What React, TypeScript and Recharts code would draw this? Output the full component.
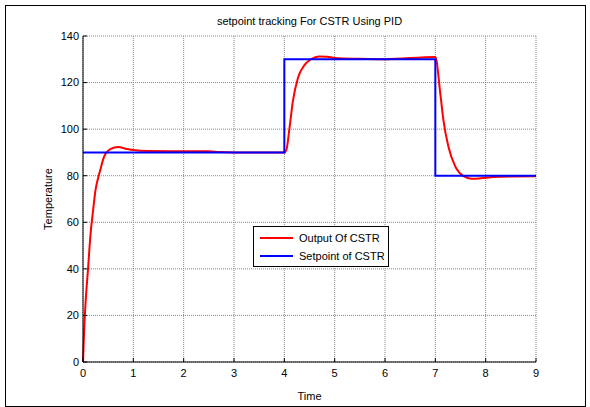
import { CartesianGrid, Line, LineChart, XAxis, YAxis } from 'recharts'

// time (s) and temperature
const outputTime = [
  0, 0.02, 0.05, 0.1, 0.15, 0.2, 0.25, 0.3, 0.35, 0.4, 0.45, 0.55, 0.7, 0.85, 1.0, 1.3, 2.0, 2.5, 2.7, 3.0, 4.0,
  4.04, 4.1, 4.17, 4.27, 4.4, 4.53, 4.69, 4.85, 5.0, 5.5, 6.0, 7.0,
  7.1, 7.16, 7.26, 7.4, 7.56, 7.72, 7.9, 8.15, 8.5, 9.0,
]
const outputTemp = [
  0, 12, 25, 40, 55, 65, 74, 79, 83, 87, 89.5, 91.5, 92.3, 91.6, 91, 90.6, 90.5, 90.5, 90.2, 90, 90,
  91, 100, 112, 122, 127.5, 130, 131.2, 131.1, 130.6, 130.2, 130, 131,
  115, 104, 92.4, 83.8, 79.8, 78.7, 78.9, 79.4, 79.7, 79.8,
]

const setpointTime = [0, 4, 4, 7, 7, 9]
const setpointTemp = [90, 90, 130, 130, 80, 80]

const xTicks = [0, 1, 2, 3, 4, 5, 6, 7, 8, 9]
const yTicks = [0, 20, 40, 60, 80, 100, 120, 140]

const outputData = outputTime.map((t, i) => ({ t, v: outputTemp[i] }))
const setpointData = setpointTime.map((t, i) => ({ t, v: setpointTemp[i] }))

const font = '"Liberation Sans", Arial, sans-serif'
const tickStyle = { fill: '#000', fontSize: 11, fontFamily: font }

function LegendBox() {
  const rows = [
    { label: 'Output Of CSTR', color: '#ff0000' },
    { label: 'Setpoint of CSTR', color: '#0000ff' },
  ]
  return (
    <div
      style={{
        position: 'absolute',
        left: 253,
        top: 226,
        width: 136,
        height: 41,
        border: '1px solid #000',
        background: '#fff',
        fontFamily: font,
        fontSize: 11,
        paddingTop: 2,
        boxSizing: 'border-box',
      }}
    >
      {rows.map((r) => (
        <div key={r.label} style={{ display: 'flex', alignItems: 'center', height: 18 }}>
          <div style={{ width: 33, height: 2, background: r.color, marginLeft: 6, marginRight: 6 }} />
          <span>{r.label}</span>
        </div>
      ))}
    </div>
  )
}

export default function App() {
  return (
    <div style={{ position: 'absolute', left: 0, top: 0, width: 590, height: 407, background: '#fff' }}>
      <div
        style={{
          position: 'absolute',
          left: 5,
          top: 5,
          width: 579,
          height: 400,
          border: '1px solid #000',
        }}
      />
      <div
        style={{
          position: 'absolute',
          left: 83,
          width: 453,
          top: 15,
          textAlign: 'center',
          fontFamily: font,
          fontSize: 11,
          color: '#000',
        }}
      >
        setpoint tracking For CSTR Using PID
      </div>
      <div style={{ position: 'absolute', left: 0, top: 0 }}>
        <LineChart width={590} height={407} margin={{ top: 36, right: 54, bottom: 15, left: 43 }}>
          <CartesianGrid stroke="#888" strokeDasharray="1 1" />
          <XAxis
            dataKey="t"
            type="number"
            domain={[0, 9]}
            ticks={xTicks}
            height={30}
            allowDuplicatedCategory={false}
            stroke="#000"
            tick={tickStyle}
            tickSize={-4}
            tickMargin={11}
            label={{ value: 'Time', position: 'insideBottom', offset: -8, fill: '#000', fontSize: 11, fontFamily: font }}
          />
          <XAxis
            xAxisId="top"
            orientation="top"
            type="number"
            domain={[0, 9]}
            ticks={xTicks}
            height={0}
            stroke="#000"
            tick={false}
            tickSize={-4}
          />
          <YAxis
            type="number"
            domain={[0, 140]}
            ticks={yTicks}
            width={40}
            stroke="#000"
            tick={tickStyle}
            tickSize={-4}
            tickMargin={8}
            label={{
              value: 'Temperature',
              angle: -90,
              position: 'insideLeft',
              offset: 5,
              fill: '#000',
              fontSize: 11,
              fontFamily: font,
              style: { textAnchor: 'middle' },
            }}
          />
          <YAxis
            yAxisId="right"
            orientation="right"
            type="number"
            domain={[0, 140]}
            ticks={yTicks}
            width={0}
            stroke="#000"
            tick={false}
            tickSize={-4}
          />
          <Line
            data={outputData}
            dataKey="v"
            type="monotone"
            stroke="#ff0000"
            strokeWidth={2}
            dot={false}
            isAnimationActive={false}
            name="Output Of CSTR"
          />
          <Line
            data={setpointData}
            dataKey="v"
            type="linear"
            stroke="#0000ff"
            strokeWidth={2}
            dot={false}
            isAnimationActive={false}
            name="Setpoint of CSTR"
          />
        </LineChart>
      </div>
      <LegendBox />
    </div>
  )
}
